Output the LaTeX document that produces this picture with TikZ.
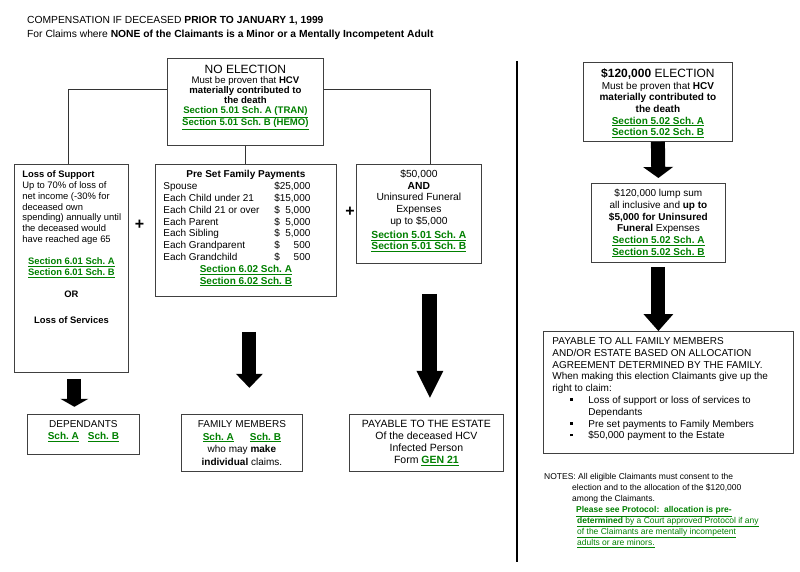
\documentclass[tikz,border=0pt]{standalone}
\usepackage{fontspec}
\setmainfont{Liberation Sans}
\usepackage{xcolor}
\usetikzlibrary{arrows.meta,positioning,calc}

\definecolor{grn}{RGB}{0,128,0}
\frenchspacing
\newcommand{\fsz}[2]{\fontsize{#1}{#2}\selectfont}
\newcommand{\sect}[1]{{\color{grn}\bfseries\underline{#1}}}
\newcommand{\lft}[1]{\makebox[\linewidth][l]{#1}}
\newcommand{\panel}[3]{\parbox[t][#2][t]{#1}{\centering #3}}
\newcommand{\famrow}[2]{\makebox[\linewidth][l]{\makebox[111pt][l]{#1}\rlap{\$}\makebox[36pt][r]{#2}}}
\newcommand{\bul}{\makebox[18pt][l]{\rule[2.5pt]{2.6pt}{2.6pt}}}

\tikzset{
  panel/.style={draw=black!75,line width=0.8pt,inner sep=0pt,anchor=north west,fill=white},
  wire/.style={draw=black!80,line width=0.8pt},
  bigarrow/.style n args={3}{line width=#1,-{Triangle[width=#2,length=#3,line width=0pt]}},
  plus/.style={inner sep=0pt,font=\fsz{16}{16}\bfseries}
}

\begin{document}
\begin{tikzpicture}[x=1pt,y=-1pt]
  \useasboundingbox (0,0) rectangle (800,572);
  % heading
  \node[anchor=base west,inner sep=0pt,font=\fsz{10.3}{12}] (title1) at (27,24)
    {COMPENSATION IF DECEASED \textbf{PRIOR TO JANUARY 1, 1999}};
  \node[anchor=base west,inner sep=0pt,font=\fsz{10.3}{12}] (title2) at (27,38)
    {For Claims where \textbf{NONE of the Claimants is a Minor or a Mentally Incompetent Adult}};

  % no election
  \node[panel,font=\fsz{9.6}{10}] (nonelec) at (167,58) {\panel{156pt}{87pt}{%
    \rule{0pt}{15.5pt}{\fsz{12}{10}NO ELECTION}\\
    Must be proven that \textbf{HCV}\\
    \textbf{materially contributed to}\\
    \textbf{the death}\\
    \sect{Section 5.01 Sch. A (TRAN)}\\
    \sect{Section 5.01 Sch. B (HEMO)}}};

  \node[panel,inner xsep=8pt,font=\fsz{9.4}{10.75}] (lsup) at (14,164) {\panel{98pt}{208pt}{%
    \lft{\rule{0pt}{13.5pt}\textbf{Loss of Support}}\\
    \lft{Up to 70\% of loss of}\\
    \lft{net income (-30\% for}\\
    \lft{deceased own}\\
    \lft{spending) annually until}\\
    \lft{the deceased would}\\
    \lft{have reached age 65}\\[11.75pt]
    \sect{Section 6.01 Sch. A}\\
    \sect{Section 6.01 Sch. B}\\[11pt]
    \textbf{OR}\\[15.75pt]
    \textbf{Loss of Services}}};

  \node[panel,inner xsep=8pt,font=\fsz{10}{11.8}] (presets) at (155,164) {\panel{165pt}{132pt}{%
    \rule{0pt}{13.5pt}\textbf{Pre Set Family Payments}\\
    \famrow{Spouse}{25,000}\\
    \famrow{Each Child under 21}{15,000}\\
    \famrow{Each Child 21 or over}{5,000}\\
    \famrow{Each Parent}{5,000}\\
    \famrow{Each Sibling}{5,000}\\
    \famrow{Each Grandparent}{500}\\
    \famrow{Each Grandchild}{500}\\
    \sect{Section 6.02 Sch. A}\\
    \sect{Section 6.02 Sch. B}}};

  \node[panel,font=\fsz{10.3}{11.8}] (fifty) at (356,164) {\panel{125pt}{99pt}{%
    \rule{0pt}{13pt}\$50,000\\
    \textbf{AND}\\
    Uninsured Funeral\\
    Expenses\\
    up to \$5,000\\[2.5pt]
    \sect{Section 5.01 Sch. A}\\[-1.2pt]
    \sect{Section 5.01 Sch. B}}};

  \node[plus] (plus1) at (139.5,224.5) {+};
  \node[plus] (plus2) at (350,212) {+};

  \draw[wire] ([yshift=-31pt]nonelec.north west) -| ([xshift=-3pt]lsup.north);
  \draw[wire] ([yshift=-31pt]nonelec.north east) -| ([xshift=11.5pt]fifty.north);
  \draw[wire] (nonelec.south) -- (nonelec.south |- presets.north);

  % payees
  \node[panel,font=\fsz{10}{12.5}] (dependants) at (27,414) {\panel{112pt}{40pt}{%
    \rule{0pt}{13pt}DEPENDANTS\\
    \sect{Sch. A}\hspace{9pt}\sect{Sch. B}}};
  \node[panel,font=\fsz{10}{12.6}] (family) at (181,414) {\panel{121pt}{57pt}{%
    \rule{0pt}{13pt}FAMILY MEMBERS\\
    \sect{Sch. A}\hspace{16pt}\sect{Sch. B}\\
    who may \textbf{make}\\
    \textbf{individual} claims.}};
  \node[panel,font=\fsz{10.5}{12}] (estate) at (349,414) {\panel{154pt}{57pt}{%
    \rule{0pt}{13.5pt}PAYABLE TO THE ESTATE\\
    Of the deceased HCV\\
    Infected Person\\
    Form \sect{GEN 21}}};

  \draw[bigarrow={14pt}{28pt}{8pt}] ([shift={(3,6)}]lsup.south) -- ([shift={(3,34)}]lsup.south);
  \draw[bigarrow={14pt}{27pt}{14pt}] ([shift={(3.5,35)}]presets.south) -- ([shift={(3.5,91)}]presets.south);
  \draw[bigarrow={15pt}{27pt}{27pt}] ([shift={(11,30)}]fifty.south) -- ([shift={(11,134)}]fifty.south);

  % divider
  \draw[line width=2pt] (517,61) -- (517,562);

  % election
  \node[panel,font=\fsz{10}{11.7}] (election) at (583,62) {\panel{149pt}{79pt}{%
    \rule{0pt}{15pt}{\fsz{12}{11.7}\textbf{\$120,000} ELECTION}\\
    Must be proven that \textbf{HCV}\\
    \textbf{materially contributed to}\\
    \textbf{the death}\\
    \sect{Section 5.02 Sch. A}\\
    \sect{Section 5.02 Sch. B}}};

  \node[panel,font=\fsz{10}{11.65}] (lump) at (591,183) {\panel{134pt}{79pt}{%
    \rule{0pt}{13.5pt}\$120,000 lump sum\\
    all inclusive and \textbf{up to}\\
    \textbf{\$5,000 for Uninsured}\\
    \textbf{Funeral} Expenses\\
    \sect{Section 5.02 Sch. A}\\
    \sect{Section 5.02 Sch. B}}};

  \node[panel,inner xsep=9pt,font=\fsz{10}{11.8}] (payall) at (543,331) {\panel{232pt}{122pt}{%
    \lft{\rule{0pt}{13pt}PAYABLE TO ALL FAMILY MEMBERS}\\
    \lft{AND/OR ESTATE BASED ON ALLOCATION}\\
    \lft{AGREEMENT DETERMINED BY THE FAMILY.}\\
    \lft{When making this election Claimants give up the}\\
    \lft{right to claim:}\\
    \lft{\hspace*{18pt}\bul Loss of support or loss of services to}\\
    \lft{\hspace*{36pt}Dependants}\\
    \lft{\hspace*{18pt}\bul Pre set payments to Family Members}\\
    \lft{\hspace*{18pt}\bul \$50,000 payment to the Estate}}};

  \draw[bigarrow={14pt}{30pt}{11pt}] (election.south) -- ([yshift=5pt]lump.north);
  \draw[bigarrow={14pt}{30pt}{17pt}] ([yshift=-4pt]lump.south) -- (lump.south |- payall.north);

  % notes
  \node[anchor=north west,inner sep=0pt,font=\fsz{8.5}{10.9}] (notes) at (544,470) {\parbox[t]{250pt}{%
    \rule{0pt}{9.7pt}NOTES: All eligible Claimants must consent to the\\
    \hspace*{28pt}election and to the allocation of the \$120,000\\
    \hspace*{28pt}among the Claimants.\\
    \hspace*{32pt}{\color{grn}\underline{\textbf{Please see Protocol:\ \ allocation is pre-}}}\\
    \hspace*{33pt}{\color{grn}\underline{\textbf{determined} by a Court approved Protocol if any}}\\
    \hspace*{33pt}{\color{grn}\underline{of the Claimants are mentally incompetent}}\\
    \hspace*{33pt}{\color{grn}\underline{adults or are minors.}}}};
\end{tikzpicture}
\end{document}
